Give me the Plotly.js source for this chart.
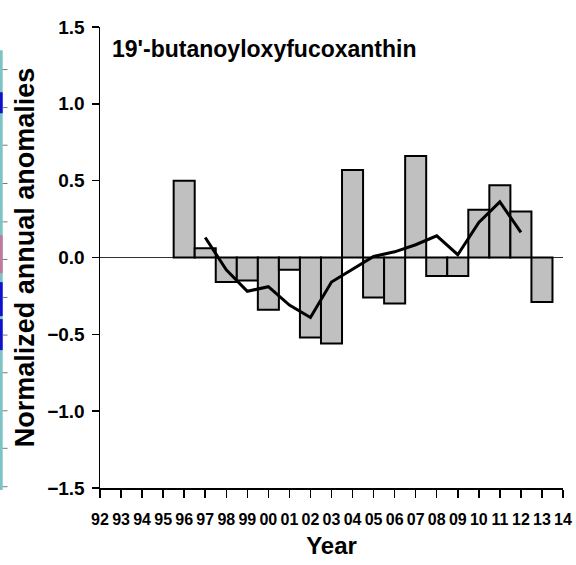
<!DOCTYPE html>
<html>
<head>
<meta charset="utf-8">
<script src="https://cdn.plot.ly/plotly-3.0.1.min.js"></script>
<style>html,body{margin:0;padding:0;background:#fff;}#chart{width:576px;height:565px;}</style>
</head>
<body>
<div id="chart"></div>
<script>
// Data
var yearLabels = ['92','93','94','95','96','97','98','99','00','01','02','03','04','05','06','07','08','09','10','11','12','13','14'];
var barYears = ['96','97','98','99','00','01','02','03','04','05','06','07','08','09','10','11','12','13'];
var barValues = [0.50, 0.06, -0.16, -0.15, -0.34, -0.08, -0.52, -0.56, 0.57, -0.26, -0.30, 0.66, -0.12, -0.12, 0.31, 0.47, 0.30, -0.29];
var lineYears = ['97','98','99','00','01','02','03','04','05','06','07','08','09','10','11','12'];
var lineValues = [0.13, -0.08, -0.22, -0.19, -0.31, -0.39, -0.16, -0.076, 0.007, 0.037, 0.083, 0.141, 0.018, 0.228, 0.362, 0.163];
var chartTitle = "19'-butanoyloxyfucoxanthin";

function idx(lbl){ return yearLabels.indexOf(lbl); }
var tickPos = yearLabels.map(function(_, i){ return i; });

var font = "Liberation Sans, Arial, sans-serif";

// decorative cropped strip at the left edge (from a neighbouring panel)
var W = 463, H = 461.3, L = 100, B = 488;
function px(x){ return (x - L) / W; }
function py(y){ return (B - y) / H; }
var shapes = [];
function strip(y0, y1, col){
  shapes.push({type: 'rect', xref: 'paper', yref: 'paper', x0: px(0), x1: px(2.7), y0: py(y1), y1: py(y0),
               fillcolor: col, line: {width: 0}, layer: 'above'});
}
strip(50, 490, '#7cc4c4');
strip(92, 113, '#1010d0');
strip(235, 273, '#c07a9e');
strip(282, 316, '#1010d0');
strip(319, 350, '#1010d0');
[69.3, 107.3, 145, 183.3, 221.7, 259.3, 297.3, 335, 372.7, 410.7, 448.3, 486.7].forEach(function(y){
  shapes.push({type: 'line', xref: 'paper', yref: 'paper', x0: px(2.7), x1: px(7.5), y0: py(y), y1: py(y),
               line: {color: '#777', width: 1}, layer: 'above'});
});

var traces = [
  {
    type: 'bar',
    x: barYears.map(idx),
    y: barValues,
    width: 1,
    marker: {color: '#c0c0c0', line: {color: '#000000', width: 2}},
    hoverinfo: 'none'
  },
  {
    type: 'scatter',
    mode: 'lines',
    x: lineYears.map(idx),
    y: lineValues,
    line: {color: '#000000', width: 3},
    hoverinfo: 'none'
  }
];

var layout = {
  width: 576, height: 565,
  margin: {l: 100, r: 13, t: 27, b: 77},
  paper_bgcolor: '#ffffff', plot_bgcolor: '#ffffff',
  showlegend: false,
  bargap: 0,
  font: {family: font, color: '#000'},
  shapes: shapes,
  xaxis: {
    range: [0, 22],
    tickvals: tickPos,
    ticktext: yearLabels,
    ticks: 'outside', ticklen: 8, tickwidth: 1.5, tickcolor: '#000',
    ticklabelstandoff: 8,
    showline: true, linecolor: '#000', linewidth: 1.5,
    showgrid: false, zeroline: false,
    tickangle: 0,
    tickfont: {family: font, size: 16, color: '#000', weight: 'bold'},
    title: {text: '<b>Year</b>', font: {family: font, size: 24, color: '#000'}, standoff: 10}
  },
  yaxis: {
    range: [-1.5, 1.5],
    tickvals: [-1.5, -1, -0.5, 0, 0.5, 1, 1.5],
    tickformat: '.1f',
    ticks: 'outside', ticklen: 7, tickwidth: 1.5, tickcolor: '#000',
    ticklabelstandoff: 3,
    showline: true, linecolor: '#000', linewidth: 1.5,
    showgrid: false,
    zeroline: true, zerolinecolor: '#333', zerolinewidth: 1,
    tickfont: {family: font, size: 19, color: '#000', weight: 'bold'},
    title: {text: '<b>Normalized annual anomalies</b>', font: {family: font, size: 27, color: '#000'}, standoff: 4}
  },
  annotations: [
    {
      text: '<b>' + chartTitle + '</b>',
      xref: 'paper', yref: 'y', x: 0.022, y: 1.36,
      xanchor: 'left', yanchor: 'middle', showarrow: false,
      font: {family: font, size: 23, color: '#000'}
    }
  ]
};

Plotly.newPlot('chart', traces, layout, {staticPlot: true, displayModeBar: false});
</script>
</body>
</html>
